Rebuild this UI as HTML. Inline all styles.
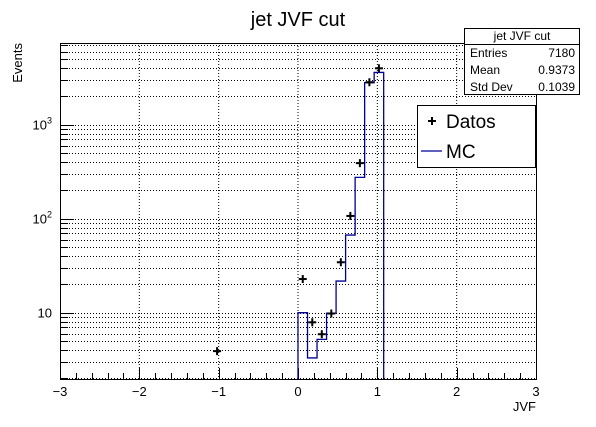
<!DOCTYPE html>
<html><head><meta charset="utf-8"><style>
body{margin:0;background:#fff;}
svg text{font-family:"Liberation Sans",sans-serif;}
</style></head><body>
<svg id="c" width="596" height="422" xmlns="http://www.w3.org/2000/svg"></svg>
<script>
const binEdgesStart = 0, binWidth = 0.12;
const mcValues = [10, 3.3, 5.2, 9.9, 21.7, 67, 275, 2800, 3600];
const dataCenters = [-1.02, 0.06, 0.18, 0.30, 0.42, 0.54, 0.66, 0.78, 0.90, 1.02];
const dataValues = [3.9, 22.8, 7.9, 5.9, 9.8, 34.4, 107, 390, 2830, 3980];
const xTicks = [-3, -2, -1, 0, 1, 2, 3];
const xTickLabels = ["\u22123", "\u22122", "\u22121", "0", "1", "2", "3"];

const L=60,R=536,T=43,B=379, xmin=-3,xmax=3, ymin=1.97, ymax=7400;
const X=v=>L+(v-xmin)/(xmax-xmin)*(R-L);
const Y=v=>B-(Math.log10(v)-Math.log10(ymin))/(Math.log10(ymax)-Math.log10(ymin))*(B-T);
const svg=document.getElementById('c'), NS='http://www.w3.org/2000/svg';
function mk(t,a,p){const e=document.createElementNS(NS,t);for(const k in a)e.setAttribute(k,a[k]);(p||svg).appendChild(e);return e;}

// grid
const grid=mk('g',{stroke:'#000','stroke-width':1,'stroke-dasharray':'1,2'});


xTicks.slice(1,-1).forEach(t=>mk('line',{x1:X(t),x2:X(t),y1:T,y2:B},grid));
for(let d=0;d<=3;d++)for(let m=1;m<10;m++){const v=m*Math.pow(10,d);if(v<ymin||v>ymax)continue;const y=Math.round(Y(v))+0.5;mk('line',{x1:L,x2:R,y1:y,y2:y},grid);}

// axes ticks
const ax=mk('g',{stroke:'#000','stroke-width':1});


for(let i=0;i<=30;i++){const v=xmin+i*0.2;const x=Math.round(X(v))+0.5;const len=(i%5==0)?11:6;mk('line',{x1:x,x2:x,y1:B,y2:B-len},ax);}
for(let d=0;d<=3;d++)for(let m=1;m<10;m++){const v=m*Math.pow(10,d);if(v<ymin||v>ymax)continue;const y=Math.round(Y(v))+0.5;mk('line',{x1:L,x2:L+(m==1?14:8),y1:y,y2:y},ax);}
mk('rect',{x:L+0.5,y:T+0.5,width:R-L,height:B-T,fill:'none',stroke:'#000'});

xTicks.forEach((t,i)=>{const e=mk('text',{x:X(t),y:B+17,'font-size':13,'text-anchor':'middle'});e.textContent=xTickLabels[i];

});
[[10,'10',''],[100,'10','2'],[1000,'10','3']].forEach(([v,b,s])=>{const e=mk('text',{x:L-8,y:Y(v)+5,'font-size':13,'text-anchor':'end'});e.textContent=b;if(s){const ts=mk('tspan',{'font-size':9,dy:-6},e);ts.textContent=s;}

});

// MC histogram
let d=`M${X(binEdgesStart)} ${B}`;
mcValues.forEach((v,i)=>{const x0=X(binEdgesStart+i*binWidth),x1=X(binEdgesStart+(i+1)*binWidth);d+=` L${x0} ${Y(v)} L${x1} ${Y(v)}`;});
d+=` L${X(binEdgesStart+mcValues.length*binWidth)} ${B}`;
const mc=mk('path',{d:d,fill:'none',stroke:'#000099','stroke-width':1.3});



// data markers
dataValues.forEach((v,i)=>{const x=X(dataCenters[i]),y=Y(v);const g=mk('g',{stroke:'#000','stroke-width':2});


mk('line',{x1:x-4,x2:x+4,y1:y,y2:y},g);mk('line',{x1:x,x2:x,y1:y-4,y2:y+4},g);});

function txt(x,y,s,t,anchor,name){const e=mk('text',{x:x,y:y,'font-size':s,'text-anchor':anchor||'start'});e.textContent=t;

return e;}
txt(298,26,20,'jet JVF cut','middle','chart-title');
txt(536,411,13,'JVF','end','x-axis-title');
const yt=txt(0,0,13,'Events','end','y-axis-title');yt.setAttribute('transform','translate(22,43) rotate(-90)');

// stats box
const sb=mk('g',{});


mk('rect',{x:464.5,y:28.5,width:115,height:66,fill:'#fff',stroke:'#000'},sb);
mk('line',{x1:464.5,x2:579.5,y1:44.5,y2:44.5,stroke:'#000'},sb);
txt(522,40,12,'jet JVF cut','middle','stats-title');
[['Entries','7180'],['Mean','0.9373'],['Std Dev','0.1039']].forEach((r,i)=>{txt(470,57+i*17,12,r[0],'start','stats-label');txt(575,57+i*17,12,r[1],'end','stats-value');});

// legend
const lg=mk('g',{});


mk('rect',{x:417.5,y:105.5,width:118,height:62,fill:'#fff',stroke:'#000'},lg);
mk('line',{x1:428,x2:436,y1:121,y2:121,stroke:'#000','stroke-width':2},lg);
mk('line',{x1:432,x2:432,y1:117,y2:125,stroke:'#000','stroke-width':2},lg);
txt(446,128,19,'Datos','start','legend-datos');
mk('line',{x1:421,x2:442,y1:151,y2:151,stroke:'#000099','stroke-width':1.3},lg);
txt(446,158,19,'MC','start','legend-mc');
</script>
</body></html>
